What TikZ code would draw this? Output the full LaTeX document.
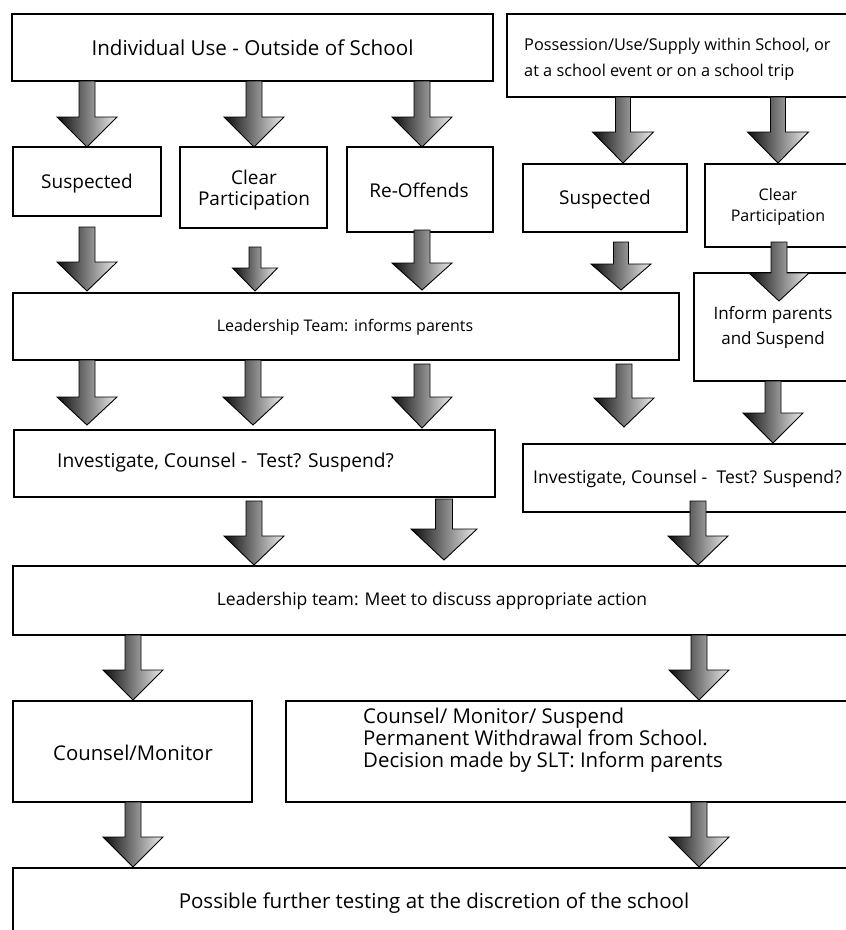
\documentclass[tikz,border=0pt]{standalone}
\usepackage{fontspec}
\setmainfont{Open Sans}
\usetikzlibrary{fit}
\tikzset{
  boxline/.style={draw=black, line width=1.4pt, fill=white, inner sep=0pt},
  txt/.style={inner sep=0pt, text=black},
  blockarrow/.style={draw=black, line width=0.9pt, line join=miter, left color=black!95, right color=black!8},
}
\newcommand{\fs}[2]{\fontsize{#1}{#2}\selectfont}
% \barrow{cx}{top}{headstart}{tip}{stem half width}{head half width}
\newcommand{\barrow}[6]{%
  \draw[blockarrow] ({#1-#5},#2) -- ({#1+#5},#2) -- ({#1+#5},#3) -- ({#1+#6},#3)
    -- (#1,#4) -- ({#1-#6},#3) -- ({#1-#5},#3) -- cycle;}
\begin{document}
\begin{tikzpicture}[x=1pt,y=-1pt]
\useasboundingbox (0,0) rectangle (846,930);
\clip (0,0) rectangle (846,930);
\fill[white] (0,0) rectangle (846,930);
% boxes
\node[boxline, fit={(12,14)(493,81)}] (b1) {};
\node[boxline, fit={(507,14)(850,97)}] (b2) {};
\node[boxline, fit={(13,147)(161,216)}] (s1) {};
\node[boxline, fit={(180,147)(327,228)}] (c1) {};
\node[boxline, fit={(347,147)(493,232)}] (r1) {};
\node[boxline, fit={(523,164)(687,232)}] (s2) {};
\node[boxline, fit={(705,164)(850,247)}] (c2) {};
\node[boxline, fit={(13,293)(679,360)}] (l1) {};
\node[boxline, fit={(694,273)(850,381)}] (ip) {};
\node[boxline, fit={(14,430)(495,497)}] (i1) {};
\node[boxline, fit={(523,444)(850,512)}] (i2) {};
\node[boxline, fit={(13,566)(850,635)}] (l2) {};
\node[boxline, fit={(13,701)(252,802)}] (cm) {};
\node[boxline, fit={(286,701)(850,802)}] (cs) {};
\node[boxline, fit={(13,868)(850,945)}] (pf) {};
% texts
\node[txt, font=\fs{20.6}{24}] (tb1) at (252.5,48) {Individual Use - Outside of School};
\node[txt, font=\fs{16.3}{25.5}, align=left, anchor=west] (tb2) at (524,59.5) {Possession/Use/Supply within School, or\\at a school event or on a school trip};
\node[txt, font=\fs{19}{21}] (ts1) at (87,184) {Suspected};
\node[txt, font=\fs{19}{21}, align=center] (tc1) at (254,190) {Clear\\Participation};
\node[txt, font=\fs{19}{21}] (tr1) at (419,190) {Re-Offends};
\node[txt, font=\fs{19}{21}] (ts2) at (605,200) {Suspected};
\node[txt, font=\fs{16}{20.5}, align=center] (tc2) at (778,207) {Clear\\Participation};
\node[txt, font=\fs{16}{20}] (tl1) at (345,327) {Leadership Team: informs parents};
\node[txt, font=\fs{17}{25}, align=center] (tip) at (773,327.5) {Inform parents\\and Suspend};
\node[txt, font=\fs{19.2}{22}, anchor=west] (ti1) at (57,463) {Investigate, Counsel -\ \ Test? Suspend?};
\node[txt, font=\fs{17.6}{22}, anchor=west] (ti2) at (533,479) {Investigate, Counsel -\ \ Test? Suspend?};
\node[txt, font=\fs{17.5}{22}] (tl2) at (432,601) {Leadership team: Meet to discuss appropriate action};
\node[txt, font=\fs{20.3}{22}] (tcm) at (133,753) {Counsel/Monitor};
\node[txt, font=\fs{20.4}{22}, align=left, anchor=west] (tcs) at (363,740) {Counsel/ Monitor/ Suspend\\Permanent Withdrawal from School.\\Decision made by SLT: Inform parents};
\node[txt, font=\fs{20.5}{22}] (tpf) at (434,903) {Possible further testing at the discretion of the school};
% block arrows
\barrow{87}{81}{117}{147}{8}{30}
\barrow{254}{81}{117}{147}{8}{30}
\barrow{422}{81}{117}{147}{8}{30}
\barrow{623}{97}{132}{163}{7.5}{30.5}
\barrow{778}{97}{132}{163}{7.5}{30.5}
\barrow{87}{227}{262}{291}{8}{30}
\barrow{255}{247}{268}{291}{6}{22.5}
\barrow{422}{230}{263}{290}{8}{30}
\barrow{621}{242}{264}{290}{7.5}{30}
\barrow{779}{242}{273}{301}{8}{30}
\barrow{87}{360}{397}{425}{8}{30}
\barrow{253}{360}{397}{425}{8}{30}
\barrow{422}{364}{397}{428}{8}{30}
\barrow{624}{364}{398}{427}{8}{30}
\barrow{773}{381}{413}{443}{8}{30}
\barrow{254}{501}{536}{565}{8}{30}
\barrow{444}{499}{529}{560}{8.5}{33}
\barrow{698}{501}{536}{565}{8}{30}
\barrow{133}{635}{670}{700}{8}{30}
\barrow{699}{635}{670}{700}{8}{30}
\barrow{133}{802}{837}{867}{8}{30}
\barrow{699}{802}{837}{867}{8}{30}
\end{tikzpicture}
\end{document}
